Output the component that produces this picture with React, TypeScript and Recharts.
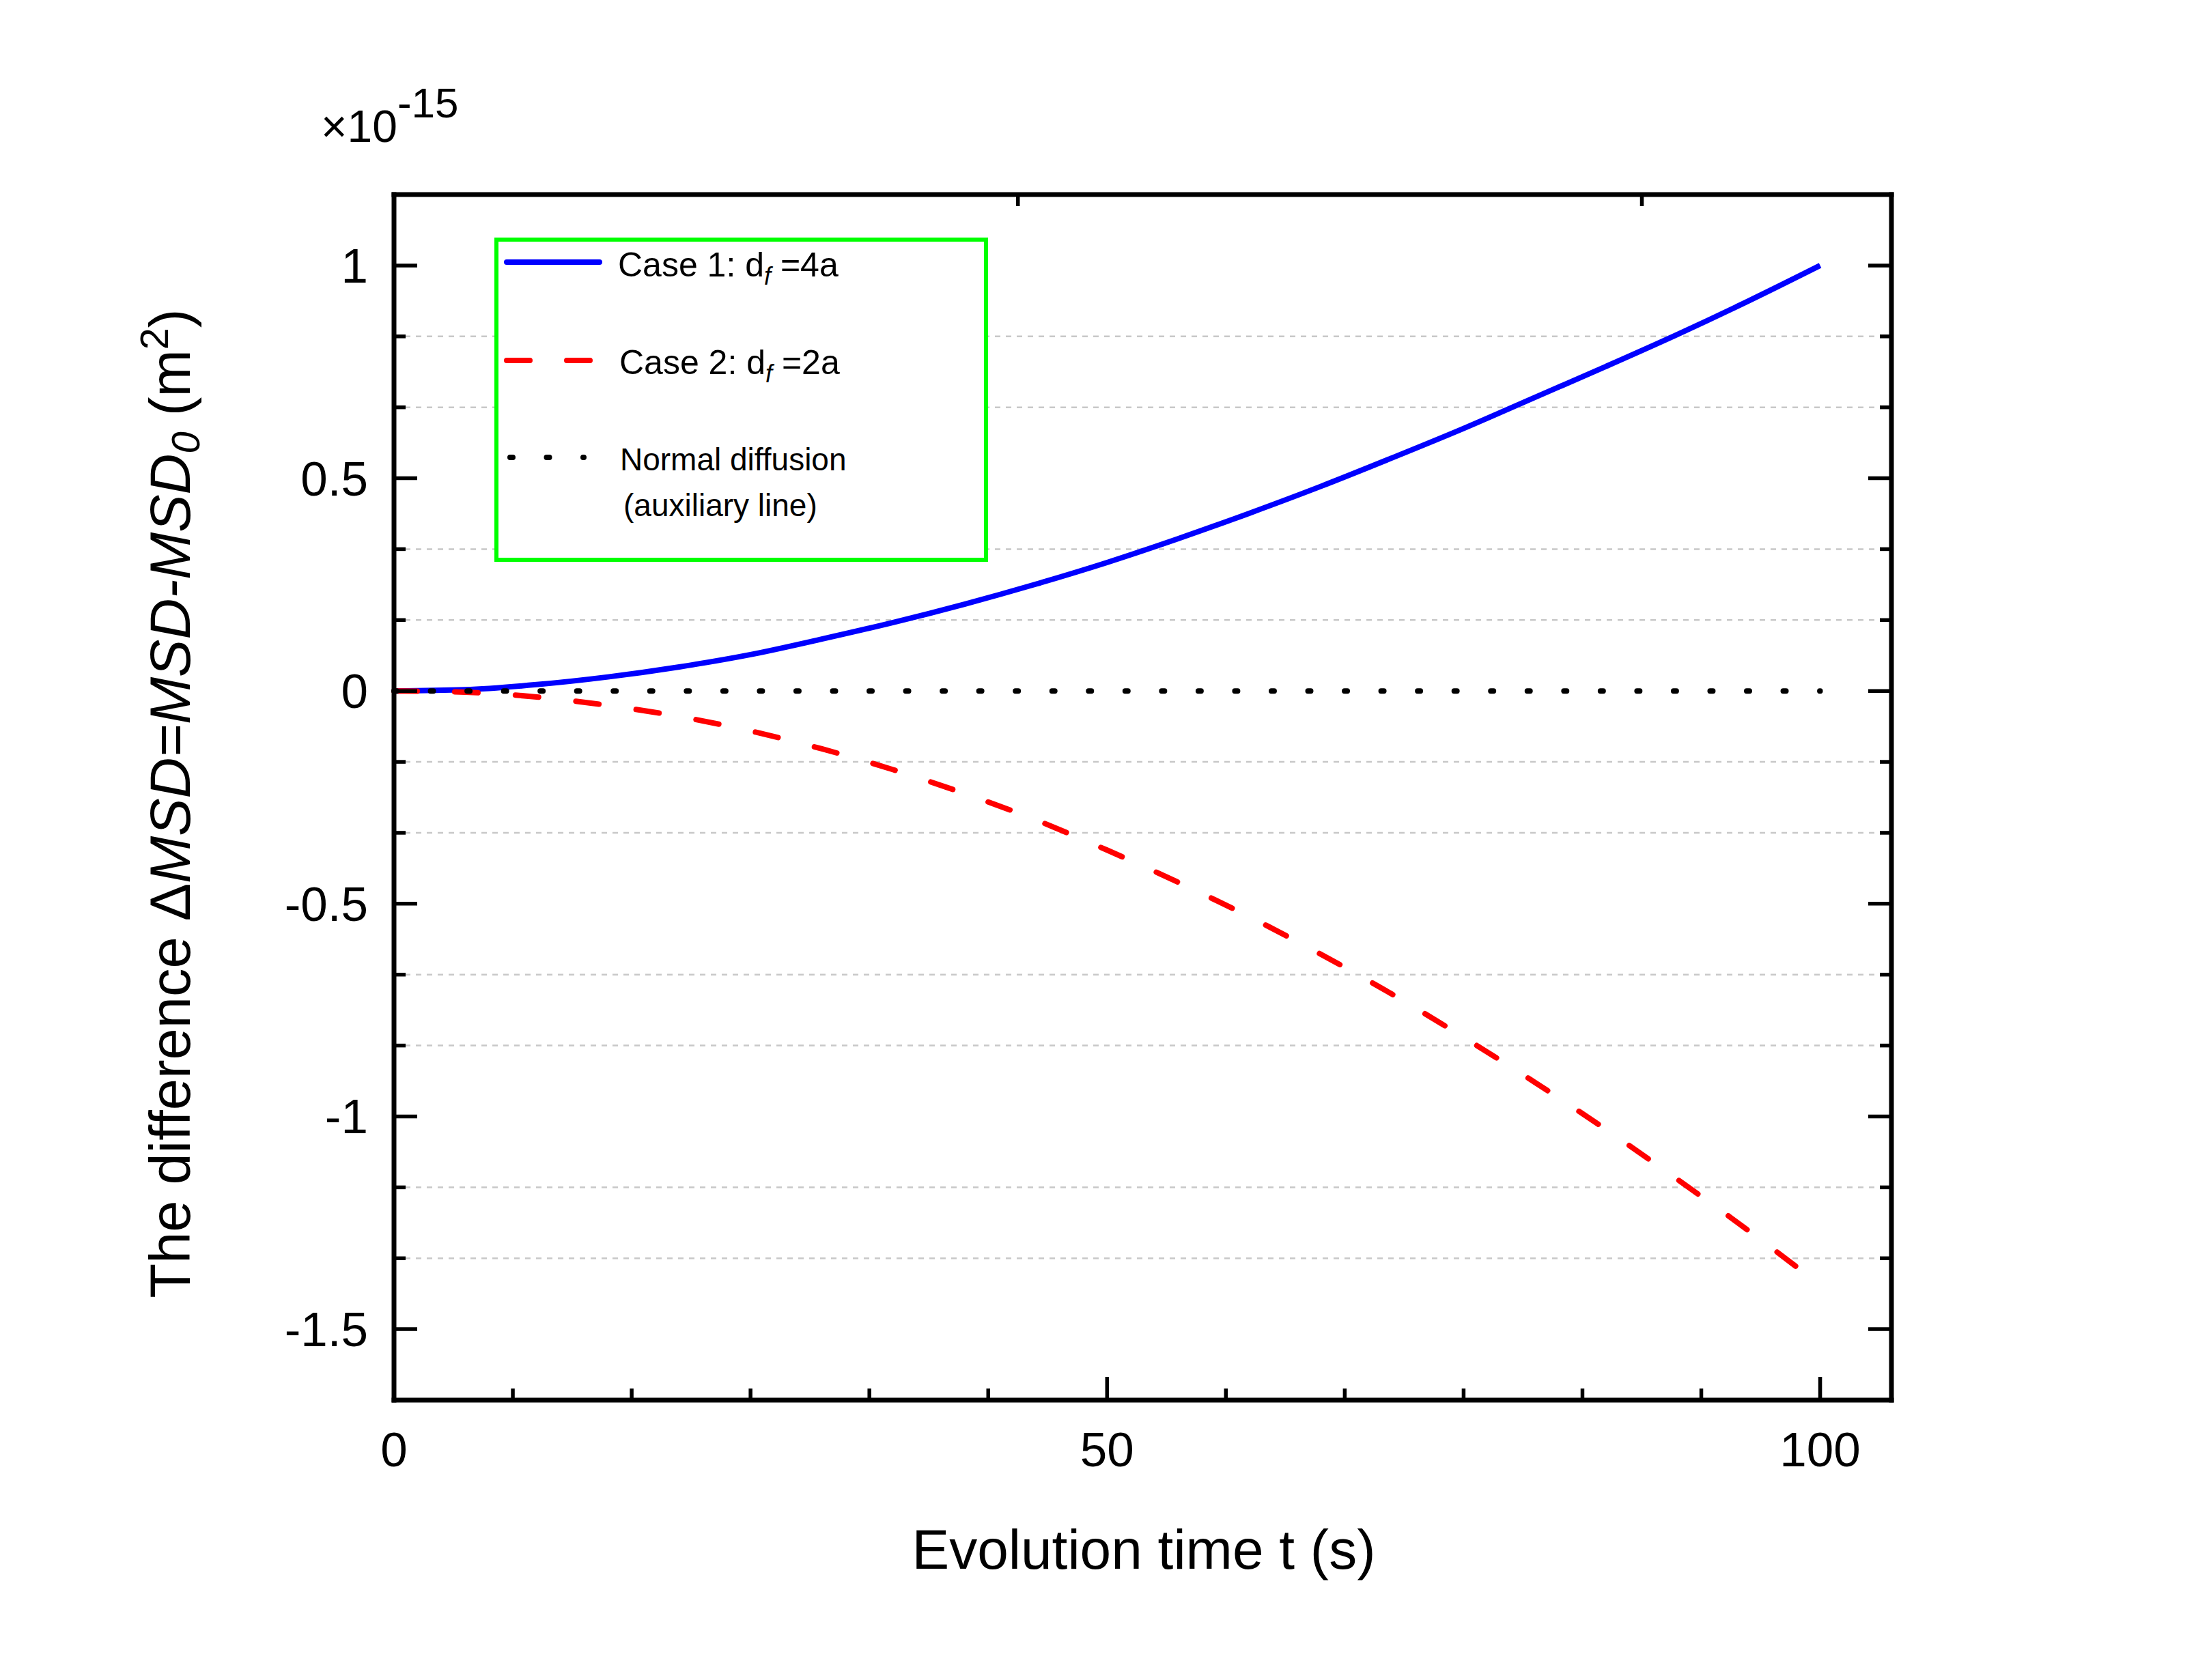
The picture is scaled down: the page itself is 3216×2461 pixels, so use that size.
import React from 'react';
import { LineChart, Line, XAxis, YAxis, ReferenceLine } from 'recharts';

// ---- data ----
const timeValues = [0, 5, 10, 15, 20, 25, 30, 35, 40, 45, 50, 55, 60, 65, 70, 75, 80, 85, 90, 95, 100];
const case1Values = [0, 0.003, 0.015, 0.033, 0.0565, 0.0855, 0.122, 0.161, 0.204, 0.251, 0.302, 0.358, 0.418, 0.481, 0.548, 0.617, 0.69, 0.763, 0.838, 0.917, 1.0];
const case2Values = [0, -0.003, -0.014, -0.034, -0.06, -0.094, -0.136, -0.185, -0.241, -0.303, -0.374, -0.45, -0.531, -0.619, -0.713, -0.814, -0.92, -1.031, -1.148, -1.269, -1.396];
const normalValues = [0, 0, 0, 0, 0, 0, 0, 0, 0, 0, 0, 0, 0, 0, 0, 0, 0, 0, 0, 0, 0];

const xMajorTicks = [0, 50, 100];
const xTickLabels = ['0', '50', '100'];
const xMinorTicks = [25 / 3, 50 / 3, 25, 100 / 3, 125 / 3, 175 / 3, 200 / 3, 75, 250 / 3, 275 / 3];
const yMajorTicks = [-1.5, -1, -0.5, 0, 0.5, 1];
const yTickLabels = ['-1.5', '-1', '-0.5', '0', '0.5', '1'];
const yMinorTicks = [-4 / 3, -7 / 6, -5 / 6, -2 / 3, -1 / 3, -1 / 6, 1 / 6, 1 / 3, 2 / 3, 5 / 6];
const xDomain = [0, 105];
const yDomain = [-5 / 3, 7 / 6];

const seriesNames = ['Case 1: d', 'Case 2: d', 'Normal diffusion'];

const data = timeValues.map((t, i) => ({
  t,
  case1: case1Values[i],
  case2: case2Values[i],
  normal: normalValues[i],
}));

const FONT = '"Liberation Sans", Arial, sans-serif';
const W = 3216;
const H = 2461;

const xAllTicks = [...xMajorTicks, ...xMinorTicks].sort((a, b) => a - b);
const yAllTicks = [...yMajorTicks, ...yMinorTicks].sort((a, b) => a - b);

function findMajor(list: number[], v: number) {
  return list.findIndex((m) => Math.abs(m - v) < 1e-6);
}

const MAJOR_LEN = 34;
const MINOR_LEN = 17;
const TICK_W = 5.5;

function makeTick(side: 'left' | 'right' | 'top' | 'bottom') {
  return (props: any) => {
    const { x, y, payload } = props;
    const v = payload.value;
    const isX = side === 'top' || side === 'bottom';
    const majors = isX ? xMajorTicks : yMajorTicks;
    const labels = isX ? xTickLabels : yTickLabels;
    const idx = findMajor(majors, v);
    const len = idx >= 0 ? MAJOR_LEN : MINOR_LEN;
    let line;
    let label = null;
    if (side === 'left') {
      line = <line x1={x} x2={x + len} y1={y} y2={y} stroke="#000" strokeWidth={TICK_W} />;
      if (idx >= 0)
        label = (
          <text x={x - 38} y={y + 25} textAnchor="end" fontSize={71} fontFamily={FONT} fill="#000">
            {labels[idx]}
          </text>
        );
    } else if (side === 'right') {
      line = <line x1={x - len} x2={x} y1={y} y2={y} stroke="#000" strokeWidth={TICK_W} />;
    } else if (side === 'bottom') {
      line = <line x1={x} x2={x} y1={y - len} y2={y} stroke="#000" strokeWidth={TICK_W} />;
      if (idx >= 0)
        label = (
          <text x={x} y={y + 97} textAnchor="middle" fontSize={71} fontFamily={FONT} fill="#000">
            {labels[idx]}
          </text>
        );
    } else {
      line = <line x1={x} x2={x} y1={y} y2={y + len} stroke="#000" strokeWidth={TICK_W} />;
    }
    return (
      <g>
        {line}
        {label}
      </g>
    );
  };
}

const axisLineStyle = { stroke: '#000', strokeWidth: 7, strokeLinecap: 'square' as const };

export default function App() {
  return (
    <div style={{ position: 'absolute', left: 0, top: 0, width: W, height: H, background: '#fff' }}>
      <LineChart
        width={W}
        height={H}
        data={data}
        margin={{ top: 255, right: 416, bottom: 260, left: 377 }}
      >
        <XAxis
          xAxisId="bottom"
          dataKey="t"
          type="number"
          orientation="bottom"
          domain={xDomain}
          ticks={xAllTicks}
          interval={0}
          height={150}
          tickSize={0}
          tickMargin={0}
          tickLine={false}
          axisLine={axisLineStyle}
          tick={makeTick('bottom')}
        />
        <XAxis
          xAxisId="top"
          type="number"
          orientation="top"
          domain={xDomain}
          allowDataOverflow
          ticks={xAllTicks}
          interval={0}
          height={30}
          tickSize={0}
          tickMargin={0}
          tickLine={false}
          axisLine={axisLineStyle}
          tick={makeTick('top')}
        />
        <YAxis
          yAxisId="left"
          type="number"
          orientation="left"
          domain={yDomain}
          ticks={yAllTicks}
          interval={0}
          width={200}
          tickSize={0}
          tickMargin={0}
          tickLine={false}
          axisLine={axisLineStyle}
          tick={makeTick('left')}
        />
        <YAxis
          yAxisId="right"
          type="number"
          orientation="right"
          domain={yDomain}
          allowDataOverflow
          ticks={yAllTicks}
          interval={0}
          width={30}
          tickSize={0}
          tickMargin={0}
          tickLine={false}
          axisLine={axisLineStyle}
          tick={makeTick('right')}
        />
        {yMinorTicks.map((v) => (
          <ReferenceLine
            key={v}
            xAxisId="bottom"
            yAxisId="left"
            y={v}
            stroke="#c8c8c8"
            strokeWidth={2.5}
            strokeDasharray="8 8"
          />
        ))}
        <Line
          xAxisId="bottom"
          yAxisId="left"
          dataKey="case1"
          name={seriesNames[0]}
          type="monotone"
          stroke="#0000ff"
          strokeWidth={8}
          dot={false}
          activeDot={false}
          isAnimationActive={false}
        />
        <Line
          xAxisId="bottom"
          yAxisId="left"
          dataKey="case2"
          name={seriesNames[1]}
          type="monotone"
          stroke="#ff0000"
          strokeWidth={8}
          strokeDasharray="34 55"
          strokeLinecap="round"
          dot={false}
          activeDot={false}
          isAnimationActive={false}
        />
        <Line
          xAxisId="bottom"
          yAxisId="left"
          dataKey="normal"
          name={seriesNames[2]}
          type="linear"
          stroke="#000"
          strokeWidth={8}
          strokeDasharray="4 49.54"
          strokeLinecap="round"
          dot={false}
          activeDot={false}
          isAnimationActive={false}
        />
      </LineChart>

      <svg
        width={W}
        height={H}
        style={{ position: 'absolute', left: 0, top: 0, pointerEvents: 'none' }}
        fontFamily={FONT}
      >
        {/* multiplier */}
        <text x={470} y={208} fontSize={66} fill="#000">
          ×10
          <tspan fontSize={62} dy={-36}>-15</tspan>
        </text>

        {/* y title */}
        <text
          x={278}
          y={1177}
          fontSize={83}
          textAnchor="middle"
          fill="#000"
          transform="rotate(-90, 278, 1177)"
        >
          The difference Δ
          <tspan fontStyle="italic">MSD=MSD-MSD</tspan>
          <tspan fontStyle="italic" fontSize={58} dy={14}>0</tspan>
          <tspan dy={-14}> (m</tspan>
          <tspan fontSize={58} dy={-32}>2</tspan>
          <tspan dy={32}>)</tspan>
        </text>

        {/* x title */}
        <text x={1675} y={2298} fontSize={82} textAnchor="middle" fill="#000">
          Evolution time t (s)
        </text>

        {/* legend */}
        <rect x={727} y={351} width={717} height={469} fill="#fff" stroke="#00ff00" strokeWidth={6} />
        <line x1={742} x2={878} y1={384} y2={384} stroke="#0000ff" strokeWidth={8} strokeLinecap="round" />
        <text x={905} y={405} fontSize={50} fill="#000">
          {seriesNames[0]}
          <tspan fontStyle="italic" fontSize={36} dy={12}>f</tspan>
          <tspan dy={-12}> =4a</tspan>
        </text>
        <line
          x1={742}
          x2={878}
          y1={528}
          y2={528}
          stroke="#ff0000"
          strokeWidth={8}
          strokeDasharray="34 54"
          strokeLinecap="round"
        />
        <text x={907} y={548} fontSize={50} fill="#000">
          {seriesNames[1]}
          <tspan fontStyle="italic" fontSize={36} dy={12}>f</tspan>
          <tspan dy={-12}> =2a</tspan>
        </text>
        <line
          x1={747}
          x2={855}
          y1={670}
          y2={670}
          stroke="#000"
          strokeWidth={8}
          strokeDasharray="4 49.5"
          strokeLinecap="round"
        />
        <text x={908} y={689} fontSize={46} fill="#000">
          {seriesNames[2]}
        </text>
        <text x={913} y={756} fontSize={46} fill="#000">
          (auxiliary line)
        </text>
      </svg>
    </div>
  );
}
